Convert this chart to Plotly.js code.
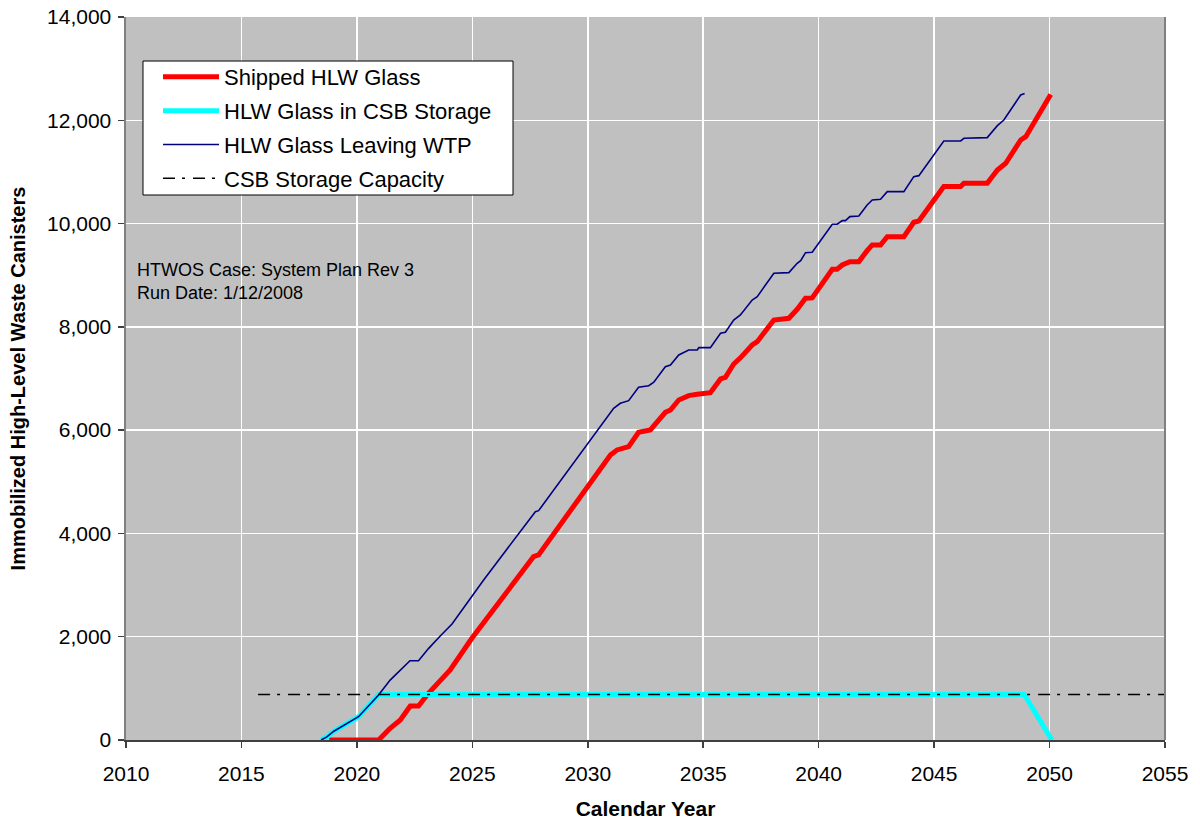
<!DOCTYPE html>
<html>
<head>
<meta charset="utf-8">
<script src="https://cdn.plot.ly/plotly-3.0.1.min.js"></script>
<style>
  html, body { margin: 0; padding: 0; background: #ffffff; }
  #chart { width: 1200px; height: 821px; }
</style>
</head>
<body>
<div id="chart"></div>
<script>
// HLW Glass Leaving WTP (cumulative canisters)
const wtpYears = [2018.45, 2018.7, 2019.0, 2019.4, 2019.71, 2020.07, 2020.5, 2020.94, 2021.44, 2022.3, 2022.67, 2023.1, 2023.61, 2024.12, 2025.49, 2027.73, 2027.87, 2030.76, 2031.12, 2031.41, 2031.77, 2032.2, 2032.64, 2032.86, 2033.36, 2033.58, 2033.94, 2034.37, 2034.74, 2034.81, 2035.31, 2035.75, 2035.96, 2036.32, 2036.61, 2037.12, 2037.34, 2038.06, 2038.71, 2039.07, 2039.22, 2039.43, 2039.72, 2040.59, 2040.8, 2041.02, 2041.16, 2041.35, 2041.74, 2042.1, 2042.32, 2042.68, 2042.97, 2043.69, 2044.12, 2044.34, 2045.42, 2046.15, 2046.29, 2047.3, 2047.74, 2048.02, 2048.75, 2048.92];
const wtpValues = [0, 60, 170, 280, 355, 451, 660, 871, 1160, 1535, 1535, 1770, 2014, 2246, 3100, 4421, 4441, 6197, 6423, 6520, 6571, 6830, 6861, 6927, 7229, 7262, 7455, 7552, 7552, 7597, 7597, 7876, 7895, 8133, 8230, 8520, 8585, 9037, 9050, 9230, 9282, 9436, 9445, 9987, 9987, 10057, 10057, 10134, 10147, 10360, 10457, 10470, 10618, 10618, 10909, 10928, 11600, 11600, 11651, 11664, 11896, 12006, 12490, 12520];

// Shipped HLW Glass
const shippedYears = [2018.8, 2020.94, 2021.44, 2021.88, 2022.31, 2022.67, 2023.1, 2024.04, 2024.98, 2027.65, 2027.87, 2030.98, 2031.27, 2031.77, 2032.2, 2032.71, 2033.36, 2033.58, 2033.94, 2034.37, 2034.74, 2035.31, 2035.75, 2035.96, 2036.32, 2036.61, 2037.12, 2037.34, 2038.06, 2038.71, 2039.07, 2039.43, 2039.72, 2040.59, 2040.8, 2041.02, 2041.35, 2041.74, 2042.1, 2042.32, 2042.68, 2042.97, 2043.69, 2044.12, 2044.34, 2045.42, 2046.15, 2046.29, 2047.3, 2047.74, 2048.1, 2048.75, 2048.97, 2050.05];
const shippedValues = [0, 0, 226, 387, 658, 658, 904, 1356, 1969, 3550, 3583, 5519, 5616, 5680, 5958, 6003, 6345, 6390, 6584, 6668, 6694, 6726, 6991, 7023, 7281, 7400, 7649, 7713, 8133, 8166, 8340, 8553, 8560, 9115, 9115, 9198, 9263, 9263, 9476, 9586, 9586, 9747, 9747, 10026, 10051, 10716, 10716, 10780, 10780, 11038, 11167, 11619, 11683, 12500];

// HLW Glass in CSB Storage
const storageYears = [2018.45, 2018.7, 2019.0, 2019.4, 2019.71, 2020.07, 2020.5, 2020.94, 2048.9, 2050.1];
const storageValues = [0, 60, 170, 280, 355, 451, 660, 880, 880, 0];

// CSB Storage Capacity
const capacityYears = [2015.72, 2055];
const capacityValues = [880, 880];

const seriesNames = ['Shipped HLW Glass', 'HLW Glass in CSB Storage', 'HLW Glass Leaving WTP', 'CSB Storage Capacity'];
const xTicks = [2010, 2015, 2020, 2025, 2030, 2035, 2040, 2045, 2050, 2055];
const yTicks = [0, 2000, 4000, 6000, 8000, 10000, 12000, 14000];

const FONT = 'Liberation Sans, Arial, sans-serif';

const traces = [
  { x: shippedYears, y: shippedValues, name: seriesNames[0], mode: 'lines', legendgroup: 'a',
    line: { color: '#FF0000', width: 5 } },
  { x: storageYears, y: storageValues, name: seriesNames[1], mode: 'lines', legendgroup: 'b',
    line: { color: '#00FFFF', width: 5 } },
  { x: wtpYears, y: wtpValues, name: seriesNames[2], mode: 'lines', legendgroup: 'c',
    line: { color: '#000080', width: 1.6 } },
  { x: capacityYears, y: capacityValues, name: seriesNames[3], mode: 'lines', legendgroup: 'd',
    line: { color: '#000000', width: 1.6, dash: '12px,7px,3px,8px' } }
];

const layout = {
  width: 1200, height: 821,
  margin: { l: 126, r: 35, t: 17, b: 81 },
  paper_bgcolor: '#ffffff',
  plot_bgcolor: '#C0C0C0',
  font: { family: FONT, color: '#000000', size: 21 },
  showlegend: true,
  legend: {
    x: 0.0308, y: 0.946, xanchor: 'left', yanchor: 'top',
    bgcolor: 'rgba(0,0,0,0)', borderwidth: 0,
    font: { family: FONT, size: 22, color: '#000000' },
    tracegroupgap: 2.2,
    itemwidth: 56
  },
  xaxis: {
    range: [2010, 2055], tickvals: xTicks, ticktext: xTicks.map(String),
    showgrid: true, gridcolor: '#FFFFFF', gridwidth: 1.5,
    zeroline: false, showline: true, linecolor: '#404040', linewidth: 2,
    ticks: 'outside', ticklen: 6, tickcolor: '#404040', tickwidth: 1.5,
    ticklabelstandoff: 8,
    tickfont: { family: FONT, size: 21 },
    title: { text: 'Calendar Year', font: { family: FONT, size: 21, weight: 'bold' }, standoff: 17 }
  },
  yaxis: {
    range: [0, 14000], tickvals: yTicks, tickformat: ',d',
    showgrid: true, gridcolor: '#FFFFFF', gridwidth: 1.5,
    zeroline: false, showline: true, linecolor: '#808080', linewidth: 2.5,
    ticks: 'outside', ticklen: 6, tickcolor: '#404040', tickwidth: 1.5,
    ticklabelstandoff: 2,
    tickfont: { family: FONT, size: 21 },
    title: { text: 'Immobilized High-Level Waste Canisters', font: { family: FONT, size: 20, weight: 'bold' }, standoff: 16 }
  },
  shapes: [
    { type: 'line', xref: 'paper', yref: 'paper', x0: 1, x1: 1, y0: 0, y1: 1,
      line: { color: '#808080', width: 2 } },
    // legend frame
    { type: 'rect', xref: 'paper', yref: 'paper', layer: 'above',
      x0: 0.01636, x1: 0.3725, y0: 0.7538, y1: 0.9391,
      fillcolor: '#ffffff', line: { color: '#000000', width: 1 } }
  ],
  annotations: [
    { xref: 'paper', yref: 'paper', x: 0.0085, y: 0.6335, xanchor: 'left', yanchor: 'middle',
      align: 'left', showarrow: false,
      text: 'HTWOS Case: System Plan Rev 3<br>Run Date: 1/12/2008',
      font: { family: FONT, size: 18, color: '#000000' } }
  ]
};

Plotly.newPlot('chart', traces, layout, { displayModeBar: false, staticPlot: true });
</script>
</body>
</html>
